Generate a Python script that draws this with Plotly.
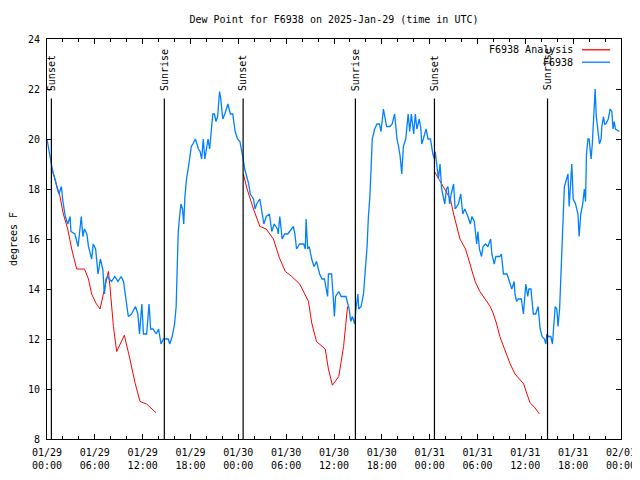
import pandas as pd
import plotly.graph_objects as go

# ---------------- data ----------------
start = "2025-01-29 00:00"

# F6938 observations: hours since start, dew point (F)
obs_hours = [0.0, 0.2, 0.4, 0.6, 0.8, 1.0, 1.3, 1.5, 1.8, 2.0, 2.3, 2.6, 2.9, 3.0, 3.5, 3.9, 4.3, 4.5, 4.7, 5.0,
             5.2, 5.6, 5.8, 6.1, 6.4, 6.7, 7.0, 7.2, 7.4, 7.6, 7.8, 8.1, 8.5, 8.9, 9.3, 9.6, 9.9, 10.2, 10.6, 10.9,
             11.1, 11.4, 11.6, 11.9, 12.1, 12.5, 12.8, 13.0, 13.3, 13.7, 14.0, 14.3, 14.6, 15.2, 15.4, 15.7, 16.0,
             16.2, 16.3, 16.45, 16.6, 16.8, 17.0, 17.15, 17.3, 17.5, 17.8, 18.1, 18.3, 18.6, 19.0, 19.2, 19.4, 19.6,
             19.8, 20.0, 20.2, 20.4, 20.6, 20.8, 21.0, 21.2, 21.4, 21.65, 21.8, 22.05, 22.3, 22.5, 22.7, 23.0, 23.3,
             23.6, 23.9, 24.2, 24.4, 24.6, 24.8, 25.1, 25.3, 25.5, 25.9, 26.1, 26.3, 26.7, 26.9, 27.2, 27.5, 27.9,
             28.2, 28.5, 28.9, 29.0, 29.2, 29.5, 29.8, 30.2, 30.9, 31.1, 31.3, 31.7, 32.2, 32.4, 32.5, 32.7, 32.9,
             33.2, 33.5, 33.8, 34.2, 34.5, 34.8, 35.2, 35.3, 35.7, 35.9, 36.05, 36.2, 36.6, 36.9, 37.5, 37.9, 38.1,
             38.3, 38.6, 38.75, 39.0, 39.1, 39.4, 39.7, 39.9, 40.15, 40.3, 40.5, 40.65, 40.8, 41.1, 41.4, 41.7, 41.9,
             42.2, 42.6, 43.0, 43.3, 43.6, 43.9, 44.1, 44.3, 44.5, 44.7, 45.0, 45.1, 45.3, 45.5, 45.7, 46.0, 46.2,
             46.4, 46.7, 46.9, 47.0, 47.2, 47.55, 47.8, 48.1, 48.4, 48.6, 48.7, 48.9, 49.1, 49.3, 49.5, 49.7, 49.9,
             50.1, 50.3, 50.5, 50.7, 51.0, 51.2, 51.6, 51.9, 52.15, 52.4, 52.8, 53.1, 53.3, 53.6, 53.9, 54.05, 54.24,
             54.5, 54.7, 55.0, 55.3, 55.65, 55.8, 56.1, 56.3, 56.8, 57.0, 57.25, 57.7, 58.1, 58.3, 58.6, 58.7, 58.9,
             59.1, 59.5, 59.76, 60.06, 60.3, 60.45, 60.7, 61.0, 61.3, 61.6, 61.86, 62.1, 62.4, 62.57, 62.7, 62.9,
             63.2, 63.4, 63.75, 63.95, 64.1, 64.3, 64.5, 64.65, 64.8, 64.9, 65.2, 65.35, 65.5, 65.7, 65.83, 66.0,
             66.3, 66.6, 66.75, 66.95, 67.2, 67.4, 67.55, 67.67, 67.85, 68.0, 68.25, 68.4, 68.55, 68.76, 68.9, 69.1,
             69.3, 69.5, 69.6, 69.8, 69.95, 70.1, 70.4, 70.65, 70.85, 71.0, 71.15, 71.3, 71.8]
obs_values = [20.0, 19.6, 19.3, 18.9, 18.6, 18.4, 18.0, 17.8, 18.1, 17.5, 16.9, 16.6, 16.9, 16.3, 16.2, 15.7, 16.9, 16.1, 16.4, 16.2,
              15.7, 15.2, 15.8, 15.6, 14.6, 15.2, 14.8, 13.8, 14.4, 14.5, 14.4, 14.3, 14.5, 14.3, 14.5, 14.3, 13.6, 12.9, 13.0, 13.2,
              13.3, 13.0, 12.2, 13.4, 12.2, 12.2, 13.4, 12.4, 12.4, 12.2, 12.4, 11.8, 12.0, 12.0, 11.8, 12.1, 12.6,
              13.3, 14.8, 16.2, 16.8, 17.4, 17.2, 16.6, 17.7, 18.4, 19.0, 19.7, 19.8, 20.0, 19.6, 19.5, 19.2, 20.0,
              19.2, 19.7, 20.0, 19.6, 20.4, 21.0, 21.0, 20.7, 20.9, 21.9, 21.6, 20.8, 21.0, 21.2, 21.4, 21.0, 21.0,
              20.3, 20.0, 19.9, 19.6, 19.2, 18.8, 18.4, 18.2, 17.8, 17.6, 17.2, 17.4, 17.6, 17.2, 16.6, 16.9, 17.0,
              16.3, 16.6, 16.4, 16.2, 16.9, 16.0, 16.2, 16.2, 16.5, 16.2, 15.6, 15.8, 15.8, 15.6, 16.8, 15.6, 15.7,
              15.2, 14.9, 15.1, 14.6, 14.4, 14.4, 13.7, 14.6, 14.6, 13.7, 12.9, 13.7, 13.9, 13.7, 13.7, 13.2, 12.7,
              12.9, 12.6, 13.2, 13.8, 13.2, 13.3, 13.8, 14.5, 15.7, 16.8, 17.7, 18.8, 20.0, 20.4, 20.6, 20.6, 20.3,
              21.2, 20.5, 20.5, 20.6, 21.0, 20.0, 19.7, 19.3, 18.6, 19.7, 20.0, 20.3, 21.0, 20.3, 21.0, 20.2, 21.0,
              20.4, 20.8, 20.4, 19.8, 20.0, 20.4, 20.0, 20.0, 19.4, 19.2, 19.5, 18.8, 18.4, 19.0, 18.0, 17.7, 17.4,
              18.0, 18.1, 17.4, 17.8, 18.2, 17.2, 17.4, 17.8, 17.0, 17.2, 16.9, 16.6, 16.9, 16.7, 15.8, 16.3, 15.6,
              15.3, 15.7, 15.8, 15.7, 16.0, 15.4, 15.0, 15.3, 15.3, 15.4, 14.6, 14.6, 14.2, 14.0, 14.3, 13.8, 13.5,
              13.6, 13.6, 13.0, 14.2, 13.7, 14.0, 14.0, 13.0, 13.0, 13.3, 12.4, 12.1, 12.0, 11.8, 12.2, 12.1,
              12.1, 11.8, 13.3, 13.2, 12.5, 13.2, 14.6, 16.0, 17.3, 18.1, 18.4, 18.6, 17.3, 18.5, 19.0, 17.6,
              17.4, 17.0, 16.1, 17.0, 17.4, 18.0, 17.5, 19.4, 20.0, 20.0, 19.2, 19.8, 21.0, 22.0, 20.9, 20.2,
              19.8, 20.0, 20.5, 20.9, 20.6, 20.6, 20.8, 21.2, 21.1, 20.4, 20.7, 20.4, 20.3]

# F6938 Analysis (nighttime only): three segments separated by None
ana_hours = [0.58, 1.0, 1.63, 2.05, 2.6, 3.1, 3.72, 4.7, 5.2, 5.6, 6.2, 6.65, 7.07, 7.7, 7.9, 8.33, 8.74, 9.7,
             10.4, 11.04, 11.67, 12.5, 13.68, None,
             24.63, 25.1, 25.9, 26.7, 27.5, 28.4, 29.15, 29.9, 30.7, 31.7, 32.8, 33.2, 33.8, 34.9, 35.3, 35.8,
             36.6, 37.2, 37.45, 37.7, None,
             48.6, 49.3, 49.9, 50.6, 51.0, 51.4, 51.8, 52.5, 53.1, 53.7, 54.3, 55.0, 55.6, 56.0, 56.4, 56.8,
             57.25, 57.7, 58.1, 58.7, 59.3, 59.8, 60.2, 60.6, 61.2, 61.77]
ana_values = [18.85, 18.4, 17.7, 17.0, 16.4, 15.6, 14.8, 14.8, 14.4, 13.8, 13.4, 13.2, 13.8, 14.7, 14.1, 12.5, 11.5, 12.15,
              11.2, 10.25, 9.5, 9.4, 9.05, None,
              18.6, 18.0, 17.2, 16.5, 16.4, 16.0, 15.25, 14.7, 14.5, 14.2, 13.5, 12.65, 11.9, 11.6, 10.8, 10.15,
              10.5, 11.7, 12.5, 13.3, None,
              18.7, 18.3, 18.0, 17.6, 17.0, 16.5, 16.0, 15.6, 14.9, 14.3, 13.9, 13.6, 13.3, 13.0, 12.6, 12.1,
              11.7, 11.3, 11.0, 10.6, 10.4, 10.2, 9.8, 9.45, 9.25, 9.0]

sun_times = ["2025-01-29 00:33", "2025-01-29 14:43", "2025-01-30 00:36",
             "2025-01-30 14:41", "2025-01-31 00:36", "2025-01-31 14:47"]
sun_labels = ["Sunset", "Sunrise", "Sunset", "Sunrise", "Sunset", "Sunrise"]

tick_times = ["2025-01-29 00:00", "2025-01-29 06:00", "2025-01-29 12:00", "2025-01-29 18:00",
              "2025-01-30 00:00", "2025-01-30 06:00", "2025-01-30 12:00", "2025-01-30 18:00",
              "2025-01-31 00:00", "2025-01-31 06:00", "2025-01-31 12:00", "2025-01-31 18:00",
              "2025-02-01 00:00"]
tick_labels = ["01/29<br>00:00", "01/29<br>06:00", "01/29<br>12:00", "01/29<br>18:00",
               "01/30<br>00:00", "01/30<br>06:00", "01/30<br>12:00", "01/30<br>18:00",
               "01/31<br>00:00", "01/31<br>06:00", "01/31<br>12:00", "01/31<br>18:00",
               "02/01<br>00:00"]

series_names = ["F6938 Analysis", "F6938"]
series_colors = ["#ff0000", "#0080ff"]

# ---------------- figure ----------------
t0 = pd.Timestamp(start)
obs_x = [t0 + pd.Timedelta(hours=h) for h in obs_hours]
ana_x = [None if h is None else t0 + pd.Timedelta(hours=h) for h in ana_hours]

FONT = "DejaVu Sans Mono"

fig = go.Figure()
fig.add_trace(go.Scatter(x=ana_x, y=ana_values, mode="lines", name=series_names[0],
                         line=dict(color=series_colors[0], width=1), connectgaps=False))
fig.add_trace(go.Scatter(x=obs_x, y=obs_values, mode="lines", name=series_names[1],
                         line=dict(color=series_colors[1], width=1.3)))

shapes = []
annotations = []
for t, lab in zip(sun_times, sun_labels):
    shapes.append(dict(type="line", xref="x", yref="paper", x0=t, x1=t, y0=0, y1=0.851,
                       line=dict(color="black", width=1.2)))
    annotations.append(dict(x=t, y=0.868, xref="x", yref="paper", text=lab, textangle=-90,
                            showarrow=False, xanchor="center", yanchor="bottom", borderpad=0,
                            font=dict(family=FONT, size=10, color="black")))

# gnuplot-style key (text right, sample line after it)
key_y = [0.973, 0.942]
for name, col, ky in zip(series_names, series_colors, key_y):
    annotations.append(dict(x=0.918, y=ky, xref="paper", yref="paper", text=name, showarrow=False,
                            xanchor="right", yanchor="middle", borderpad=0,
                            font=dict(family=FONT, size=10, color="black")))
    shapes.append(dict(type="line", xref="paper", yref="paper", x0=0.932, x1=0.981, y0=ky, y1=ky,
                       line=dict(color=col, width=1.3)))

# the page body adds an 8px offset; size the figure to compensate (and avoid page overflow)
fig.update_layout(
    width=632, height=464,
    margin=dict(l=39, r=19, t=31, b=33, autoexpand=False),
    paper_bgcolor="white", plot_bgcolor="white",
    showlegend=False,
    font=dict(family=FONT, size=10, color="black"),
    title=dict(text="Dew Point for F6938 on 2025-Jan-29 (time in UTC)", x=0.5, xref="paper",
               xanchor="center", y=1 - 11 / 464, yref="container", yanchor="middle",
               font=dict(family=FONT, size=10, color="black")),
    shapes=shapes, annotations=annotations,
)
fig.update_xaxes(type="date", range=[tick_times[0], tick_times[-1]],
                 tickvals=tick_times, ticktext=tick_labels,
                 showgrid=False, zeroline=False, showline=True, linecolor="black", linewidth=1,
                 mirror="ticks", ticks="inside", ticklen=5, tickcolor="black", tickwidth=1,
                 ticklabelstandoff=4,
                 minor=dict(dtick=2 * 3600 * 1000, ticks="inside", ticklen=3, tickcolor="black",
                            showgrid=False),
                 tickfont=dict(family=FONT, size=10, color="black"))
fig.update_yaxes(range=[8, 24], dtick=2, tick0=8,
                 showgrid=False, zeroline=False, showline=True, linecolor="black", linewidth=1,
                 mirror="ticks", ticks="inside", ticklen=5, tickcolor="black", tickwidth=1,
                 ticklabelstandoff=4,
                 title=dict(text="degrees F", font=dict(family=FONT, size=10, color="black"), standoff=16),
                 tickfont=dict(family=FONT, size=10, color="black"))

fig.write_html("out.html")
